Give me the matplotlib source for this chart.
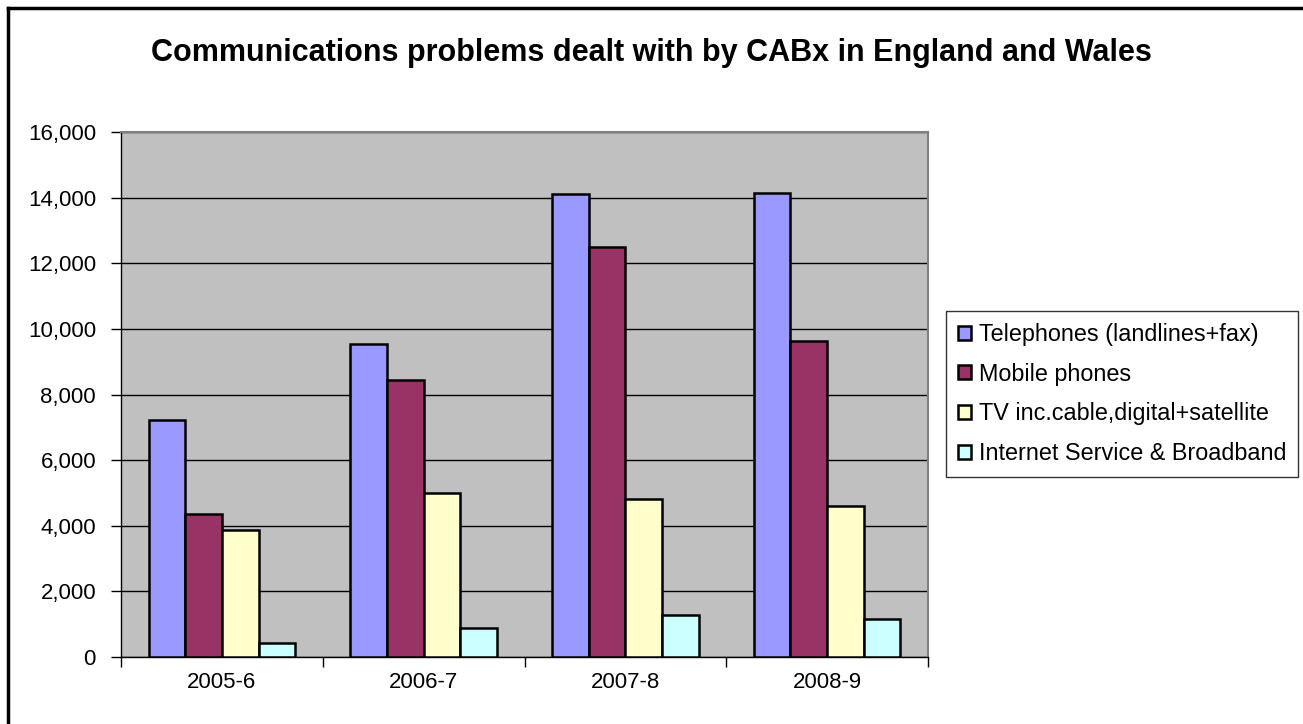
import numpy as np
import matplotlib.pyplot as plt
from matplotlib.lines import Line2D
from matplotlib.ticker import FuncFormatter

plt.rcParams['font.family'] = ['Liberation Sans', 'DejaVu Sans']

# data
years = ['2005-6', '2006-7', '2007-8', '2008-9']
telephones = [7230, 9530, 14100, 14150]
mobiles = [4370, 8430, 12490, 9640]
tv = [3860, 5000, 4830, 4610]
internet = [420, 890, 1280, 1160]

labels = ['Telephones (landlines+fax)', 'Mobile phones',
          'TV inc.cable,digital+satellite', 'Internet Service & Broadband']
colors = ['#9999FF', '#993366', '#FFFFCC', '#CCFFFF']
series = [telephones, mobiles, tv, internet]

fig = plt.figure(figsize=(13.03, 7.24), dpi=100)
ax = fig.add_axes([121 / 1303, 1 - 657 / 724, (928 - 121) / 1303, (657 - 132) / 724])
ax.set_facecolor('#C0C0C0')

# excel style: gap width 150%
w = 1 / 5.5
x = np.arange(len(years))
for i, (vals, lab, c) in enumerate(zip(series, labels, colors)):
    ax.bar(x + (i - 1.5) * w, vals, width=w, color=c, edgecolor='black',
           linewidth=1.8, label=lab, zorder=3)

ax.set_xlim(-0.5, 3.5)
ax.set_ylim(0, 16000)
ax.set_yticks(np.arange(0, 16001, 2000))
ax.yaxis.set_major_formatter(FuncFormatter(lambda v, p: f'{int(v):,}'))
ax.grid(axis='y', color='black', linewidth=1.0, zorder=1)

ax.set_xticks(x)
ax.set_xticklabels(years)
ax.set_xticks(np.arange(-0.5, 3.6, 1), minor=True)
ax.tick_params(axis='x', which='major', length=0, pad=11, labelsize=16)
ax.tick_params(axis='x', which='minor', length=7, width=1, color='black', direction='out')
ax.tick_params(axis='y', length=7, width=1, pad=11, labelsize=16, direction='out')

for s in ['top', 'right']:
    ax.spines[s].set_color('#808080')
    ax.spines[s].set_linewidth(1.5)
for s in ['left', 'bottom']:
    ax.spines[s].set_color('black')
    ax.spines[s].set_linewidth(1.0)

fig.text(0.5, 1 - 53 / 724, 'Communications problems dealt with by CABx in England and Wales',
         ha='center', va='center', fontsize=22, fontweight='bold')

leg = fig.legend(loc='center left', bbox_to_anchor=(946 / 1303, 1 - 394 / 724),
                 fontsize=16.8, frameon=True, fancybox=False, edgecolor='black',
                 handlelength=0.55, handleheight=0.55, handletextpad=0.35,
                 labelspacing=0.72, borderpad=0.5, borderaxespad=0)
leg.get_frame().set_linewidth(1.0)

# outer chart border (only left and top visible)
fig.add_artist(Line2D([8 / 1303, 8 / 1303], [0, 1 - 8 / 724], color='black', linewidth=2.5))
fig.add_artist(Line2D([8 / 1303, 1], [1 - 8 / 724, 1 - 8 / 724], color='black', linewidth=2.5))

fig.savefig('out.png', dpi=100, facecolor='white')
